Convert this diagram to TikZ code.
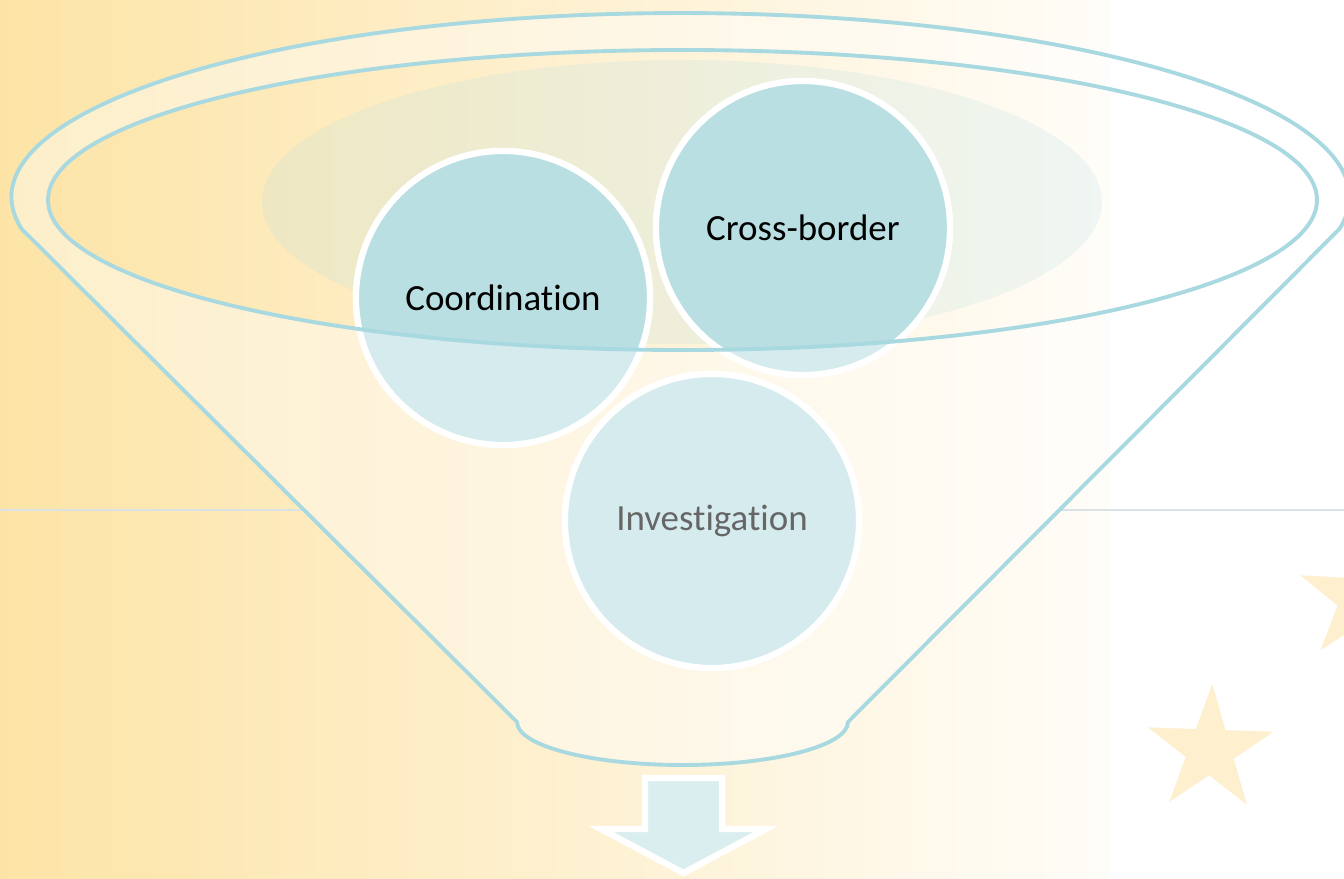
\documentclass[tikz,border=0pt]{standalone}
\usepackage{fontspec}
\setmainfont[Ligatures={NoCommon,NoContextual,NoRequired}]{Carlito}
\usepackage{tikz}
\usetikzlibrary{shapes.geometric}

\definecolor{funnelblue}{RGB}{168, 216, 224}
\definecolor{bubblefill}{RGB}{185, 223, 226}
\definecolor{arrowfill}{RGB}{218, 238, 240}
\definecolor{sandleft}{RGB}{253, 228, 166}
\definecolor{sandmid}{RGB}{254, 240, 200}
\definecolor{sandfade}{RGB}{255, 253, 249}
\definecolor{starfill}{RGB}{254, 239, 206}
\definecolor{ruleline}{RGB}{218, 226, 232}

\tikzset{
  bubble/.style={circle, draw=white, line width=1.8pt, fill=bubblefill, minimum size=2.94cm, inner sep=0pt, font=\fontsize{10.5}{12}\selectfont},
  funnelline/.style={draw=funnelblue, line width=1.1pt},
  bgstar/.style={star, star points=5, star point ratio=2.618, inner sep=0pt, minimum size=1.32cm, fill=starfill}
}

\begin{document}
\begin{tikzpicture}[x=0.01cm, y=0.01cm]
  \useasboundingbox (0,0) rectangle (1344,-879);
  \clip (0,0) rectangle (1344,-879);

  % backdrop
  \fill[white] (0,0) rectangle (1344,-879);
  \shade[left color=sandleft, middle color=sandmid, right color=sandfade] (0,0) rectangle (1110,-879);
  \draw[ruleline, line width=0.4pt] (0,-510) -- (304,-510);
  \draw[ruleline, line width=0.4pt] (1058,-510) -- (1344,-510);
  \node[bgstar, rotate=-2] (star1) at (1210,-750) {};
  \node[bgstar, rotate=-3] (star2) at (1362,-599) {};

  % glass disc in the mouth
  \fill[bubblefill, fill opacity=0.22] (682,-202) ellipse[x radius=420, y radius=142];

  \node[bubble] (coord) at (503,-298) {Coordination};
  \node[bubble] (cross) at (803,-228) {Cross-border};
  \node[bubble] (invest) at (712,-521) {Investigation};

  % funnel body
  \fill[white, fill opacity=0.4, even odd rule]
    (21.7,-229) arc[start angle=190, end angle=-10, x radius=669, y radius=184]
    -- (848,-722) arc[start angle=0, end angle=-180, x radius=165.5, y radius=43] -- cycle
    (682.5,-200) ellipse[x radius=634.5, y radius=150];
  \path[funnelline]
    (21.7,-229) arc[start angle=190, end angle=-10, x radius=669, y radius=184]
    -- (848,-722) arc[start angle=0, end angle=-180, x radius=165.5, y radius=43] -- cycle
    (682.5,-200) ellipse[x radius=634.5, y radius=150];

  % outlet arrow
  \draw[white, line width=1.8pt, fill=arrowfill, line join=miter]
    (645,-778) -- (722,-778) -- (722,-829) -- (766,-829) -- (683.5,-873)
    -- (601,-829) -- (645,-829) -- cycle;
\end{tikzpicture}
\end{document}
